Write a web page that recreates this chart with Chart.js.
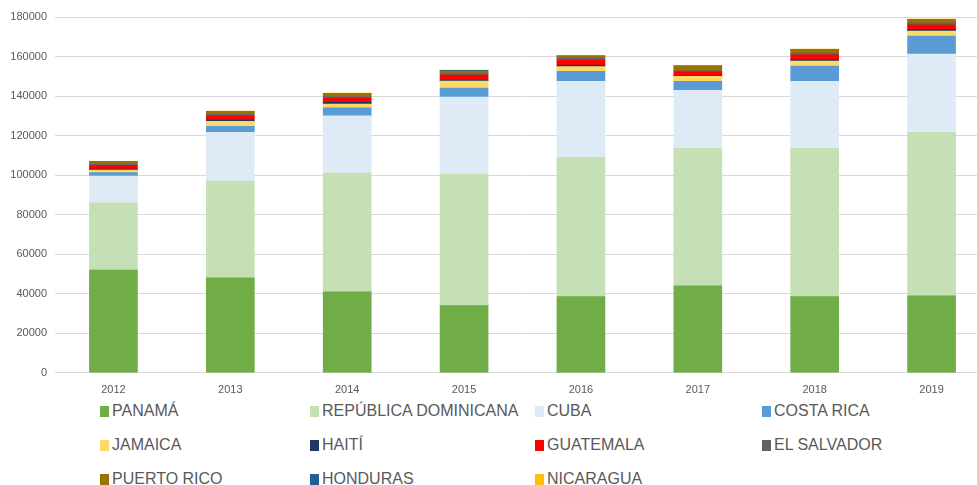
<!DOCTYPE html>
<html lang="es">
<head>
  <meta charset="UTF-8">
  <title>Chart</title>
  <script src="https://cdn.jsdelivr.net/npm/chart.js"></script>
  <style>
    html, body { margin: 0; padding: 0; background: #fff; overflow: hidden; }
    #wrap { position: relative; width: 992px; height: 400px; }
    #legend {
      position: absolute; left: 100px; top: 400px;
      display: grid; grid-template-columns: 210px 225px 227px 215px;
      grid-auto-rows: 34px;
      font-family: 'Liberation Sans Narrow', 'Liberation Sans', sans-serif;
      font-size: 16px; color: #595959;
    }
    #legend div { display: flex; align-items: center; height: 22px; }
    #legend span.box { display: inline-block; width: 9px; height: 11px; margin-right: 3px; }
  </style>
</head>
<body>
  <div id="wrap"><canvas id="chart"></canvas></div>
  <div id="legend"></div>

  <script>
    const years = ['2012', '2013', '2014', '2015', '2016', '2017', '2018', '2019'];
    const countries = ['PANAMÁ', 'REPÚBLICA DOMINICANA', 'CUBA', 'COSTA RICA', 'JAMAICA', 'HAITÍ',
                       'GUATEMALA', 'EL SALVADOR', 'PUERTO RICO', 'HONDURAS', 'NICARAGUA'];

    const panama     = [52000, 48000, 41000, 34000, 38500, 44000, 38500, 39000];
    const repDom     = [34000, 49000, 60000, 66500, 70500, 69500, 75000, 82700];
    const cuba       = [13500, 24700, 29000, 39000, 38500, 29400, 34000, 39500];
    const costaRica  = [1800, 3000, 4000, 4600, 5000, 4500, 7700, 9200];
    const jamaica    = [1300, 2500, 2000, 3500, 2400, 2600, 2500, 2500];
    const haiti      = [400, 700, 800, 500, 800, 300, 600, 800];
    const guatemala  = [1800, 2000, 2200, 2500, 2500, 2000, 2500, 2300];
    const elSalvador = [700, 800, 800, 1000, 900, 500, 1000, 1000];
    const puertoRico = [1000, 1200, 1200, 1100, 1000, 2200, 1300, 1300];
    const honduras   = [300, 300, 300, 300, 300, 300, 400, 400];
    const nicaragua  = [200, 200, 200, 200, 200, 200, 300, 300];

    const yTicks = [0, 20000, 40000, 60000, 80000, 100000, 120000, 140000, 160000, 180000];

    const series = [panama, repDom, cuba, costaRica, jamaica, haiti, guatemala, elSalvador, puertoRico, honduras, nicaragua];
    const colors = ['#70AD47', '#C5E0B4', '#DEEBF7', '#5B9BD5', '#FFD966', '#203864',
                    '#FF0000', '#636363', '#997300', '#255E91', '#FFC000'];

    const datasets = series.map((d, i) => ({
      label: countries[i],
      data: d,
      backgroundColor: colors[i],
      borderWidth: 0,
      barThickness: 48
    }));

    const ctx = document.getElementById('chart').getContext('2d');
    new Chart(ctx, {
      type: 'bar',
      data: { labels: years, datasets: datasets },
      options: {
        responsive: true,
        maintainAspectRatio: false,
        animation: false,
        layout: { padding: { top: 17, right: 2, left: 0, bottom: 0 } },
        plugins: { legend: { display: false }, tooltip: { enabled: false } },
        scales: {
          x: {
            stacked: true,
            grid: { display: false },
            border: { color: '#D9D9D9' },
            ticks: { color: '#595959', font: { family: 'Liberation Sans', size: 11 }, padding: 3 }
          },
          y: {
            stacked: true,
            min: 0,
            max: 180000,
            afterBuildTicks: (s) => { s.ticks = yTicks.map(v => ({ value: v })); },
            afterFit: (s) => { s.width = 55; },
            grid: { color: '#D9D9D9', drawTicks: false },
            border: { display: false },
            ticks: { color: '#595959', font: { family: 'Liberation Sans', size: 11 }, padding: 8,
                     callback: (v) => String(v) }
          }
        }
      }
    });

    const legend = document.getElementById('legend');
    countries.forEach((c, i) => {
      const item = document.createElement('div');
      const box = document.createElement('span');
      box.className = 'box';
      box.style.background = colors[i];
      item.appendChild(box);
      item.appendChild(document.createTextNode(c));
      legend.appendChild(item);
    });
  </script>
</body>
</html>
